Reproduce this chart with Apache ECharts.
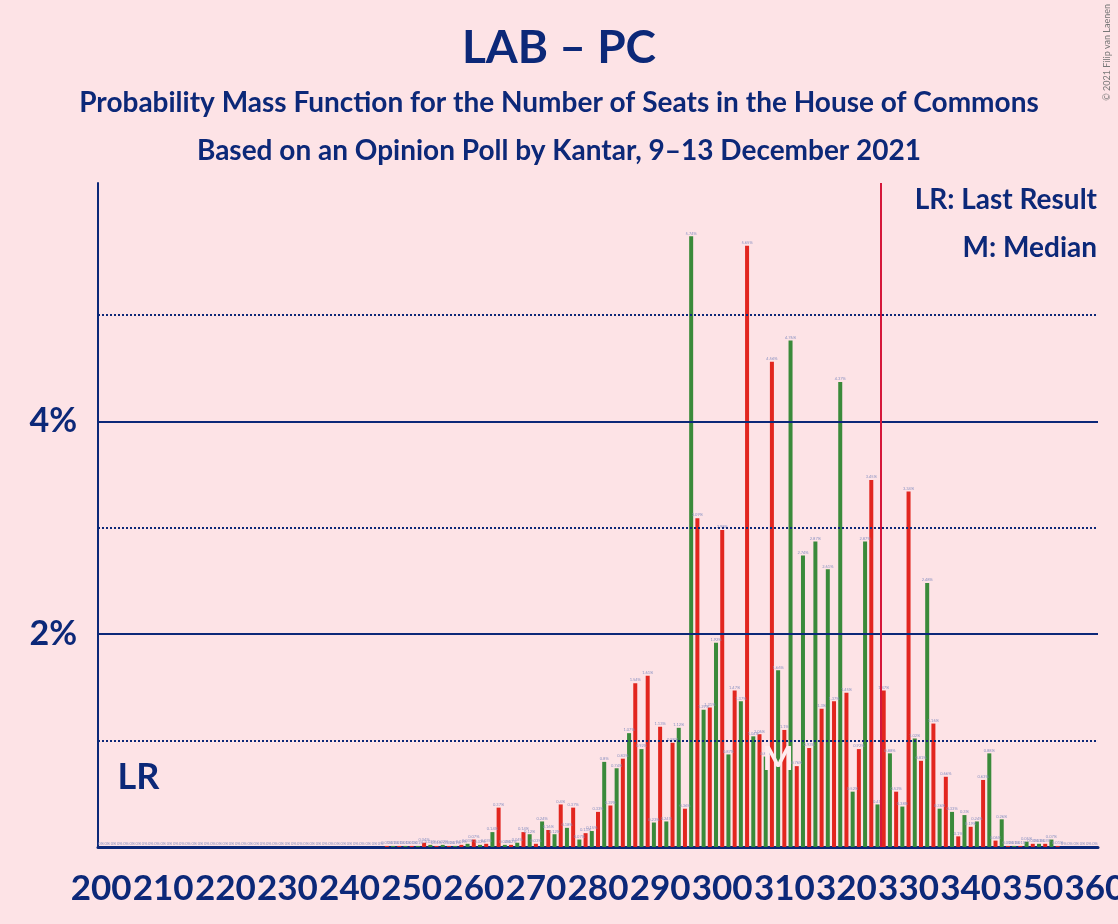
<!DOCTYPE html>
<html>
<head>
<meta charset="utf-8">
<script src="https://cdn.jsdelivr.net/npm/echarts@6/dist/echarts.min.js"></script>
<style>
  html, body { margin: 0; padding: 0; background: #fde3e6; }
  #chart { width: 1118px; height: 924px; }
</style>
</head>
<body>
<div id="chart"></div>
<script>
// seats 200 .. 360
const seats = [];
for (let s = 200; s <= 360; s++) seats.push(String(s));

// probability (%) per seat
const probs = [
  0, 0, 0, 0, 0, 0, 0, 0, 0, 0,                                  // 200-209
  0, 0, 0, 0, 0, 0, 0, 0, 0, 0,                                  // 210-219
  0, 0, 0, 0, 0, 0, 0, 0, 0, 0,                                  // 220-229
  0, 0, 0, 0, 0, 0, 0, 0, 0, 0,                                  // 230-239
  0, 0, 0, 0, 0, 0, 0.01, 0.01, 0.01, 0.01,                      // 240-249
  0.01, 0.01, 0.04, 0.02, 0.01, 0.02, 0.01, 0.01, 0.02, 0.03,    // 250-259
  0.07, 0.02, 0.03, 0.14, 0.37, 0.02, 0.02, 0.04, 0.14, 0.12,    // 260-269
  0.03, 0.24, 0.16, 0.12, 0.40, 0.18, 0.37, 0.07, 0.13, 0.15,    // 270-279
  0.33, 0.80, 0.39, 0.74, 0.83, 1.07, 1.54, 0.92, 1.61, 0.23,    // 280-289
  1.13, 0.24, 0.98, 1.12, 0.36, 5.74, 3.09, 1.29, 1.31, 1.92,    // 290-299
  2.98, 0.87, 1.47, 1.37, 5.65, 1.04, 1.06, 0.85, 4.56, 1.66,    // 300-309
  1.10, 4.76, 0.76, 2.74, 0.93, 2.87, 1.30, 2.61, 1.37, 4.37,    // 310-319
  1.45, 0.52, 0.92, 2.87, 3.45, 0.40, 1.47, 0.88, 0.52, 0.38,    // 320-329
  3.34, 1.02, 0.81, 2.48, 1.16, 0.36, 0.66, 0.33, 0.10, 0.30,    // 330-339
  0.19, 0.24, 0.63, 0.88, 0.06, 0.26, 0.01, 0.01, 0.01, 0.05,    // 340-349
  0.03, 0.03, 0.03, 0.07, 0.01, 0, 0, 0, 0, 0,                   // 350-359
  0                                                              // 360
];

const yLabels = ['2%', '4%'];
const minorGrid = [1, 3, 5];
const majorGrid = [2, 4];
const lastResult = '206';
const median = '309';
const majority = 325.5;   // line sits between 325 and 326

const navy = '#0c2878';
const red = '#e2261f';
const green = '#3a8a3a';
const font = 'Lato';

const chart = echarts.init(document.getElementById('chart'));
chart.setOption({
  backgroundColor: '#fde3e6',
  animation: false,
  title: [
    {
      text: 'LAB – PC', left: 'center', top: 25, padding: 0,
      textStyle: {fontFamily: font, fontSize: 46, fontWeight: 'bold', color: navy}
    },
    {
      text: 'Probability Mass Function for the Number of Seats in the House of Commons',
      left: 'center', top: 89, padding: 0,
      textStyle: {fontFamily: font, fontSize: 28, fontWeight: 'bold', color: navy}
    },
    {
      text: 'Based on an Opinion Poll by Kantar, 9–13 December 2021',
      left: 'center', top: 137, padding: 0,
      textStyle: {fontFamily: font, fontSize: 28, fontWeight: 'bold', color: navy}
    },
    {
      text: 'LR: Last Result', right: 21, top: 186, padding: 0,
      textStyle: {fontFamily: font, fontSize: 28, fontWeight: 'bold', color: navy}
    },
    {
      text: 'M: Median', right: 21, top: 234, padding: 0,
      textStyle: {fontFamily: font, fontSize: 28, fontWeight: 'bold', color: navy}
    }
  ],
  graphic: [
    {
      type: 'text', left: 1103, top: 4, rotation: Math.PI / 2,
      style: {text: '© 2021 Filip van Laenen', fontFamily: font, fontSize: 9, fill: '#777'}
    }
  ],
  grid: {left: 98, right: 20, top: 183, bottom: 77, outerBoundsMode: 'none', containLabel: false},
  xAxis: [
    {
      type: 'category',
      data: seats,
      axisLine: {lineStyle: {color: navy, width: 3}},
      axisTick: {show: false},
      axisLabel: {
        interval: (i, v) => Number(v) % 10 === 0,
        fontFamily: font, fontSize: 35, fontWeight: 'bold', color: navy, margin: 24
      }
    },
    {
      type: 'value', min: 199.5, max: 360.5, show: false
    }
  ],
  yAxis: {
    type: 'value', min: 0, max: 6.24, interval: 2,
    axisLine: {show: true, lineStyle: {color: navy, width: 2}},
    axisTick: {show: false},
    splitLine: {show: false},
    axisLabel: {
      formatter: v => yLabels.indexOf(v + '%') >= 0 ? v + '%' : '',
      fontFamily: font, fontSize: 34, fontWeight: 'bold', color: navy, margin: 21
    }
  },
  series: [
    {
      // grid lines behind the bars
      type: 'line', data: [], z: 1, silent: true,
      markLine: {
        silent: true, symbol: 'none', label: {show: false},
        data: minorGrid.map(v => ({yAxis: v, lineStyle: {type: 'dotted', width: 2, color: navy}}))
          .concat(majorGrid.map(v => ({yAxis: v, lineStyle: {type: 'solid', width: 2, color: navy}})))
      }
    },
    {
      type: 'bar',
      data: probs,
      barWidth: 4,
      z: 3,
      itemStyle: {
        color: p => Number(seats[p.dataIndex]) % 2 === 0 ? red : green
      },
      label: {
        show: true, position: 'top', distance: 1,
        formatter: p => p.value + '%',
        fontFamily: font, fontSize: 4, color: '#8a92c2'
      },
      markPoint: {
        symbol: 'rect', symbolSize: 1,
        itemStyle: {color: 'rgba(0,0,0,0)'},
        data: [
          {
            coord: [lastResult, 0.65],
            label: {show: true, position: 'inside', formatter: 'LR',
              fontFamily: font, fontSize: 36, fontWeight: 'bold', color: navy}
          },
          {
            coord: [median, 0.82],
            label: {show: true, position: 'inside', formatter: 'M',
              fontFamily: font, fontSize: 33, fontWeight: 'bold', color: '#ffecef'}
          }
        ]
      }
    },
    {
      // majority line
      type: 'line', data: [], xAxisIndex: 1, z: 5, silent: true,
      markLine: {
        silent: true, symbol: 'none', label: {show: false},
        lineStyle: {type: 'solid', width: 2, color: '#d5173a'},
        data: [{xAxis: majority}]
      }
    }
  ]
});
</script>
</body>
</html>
